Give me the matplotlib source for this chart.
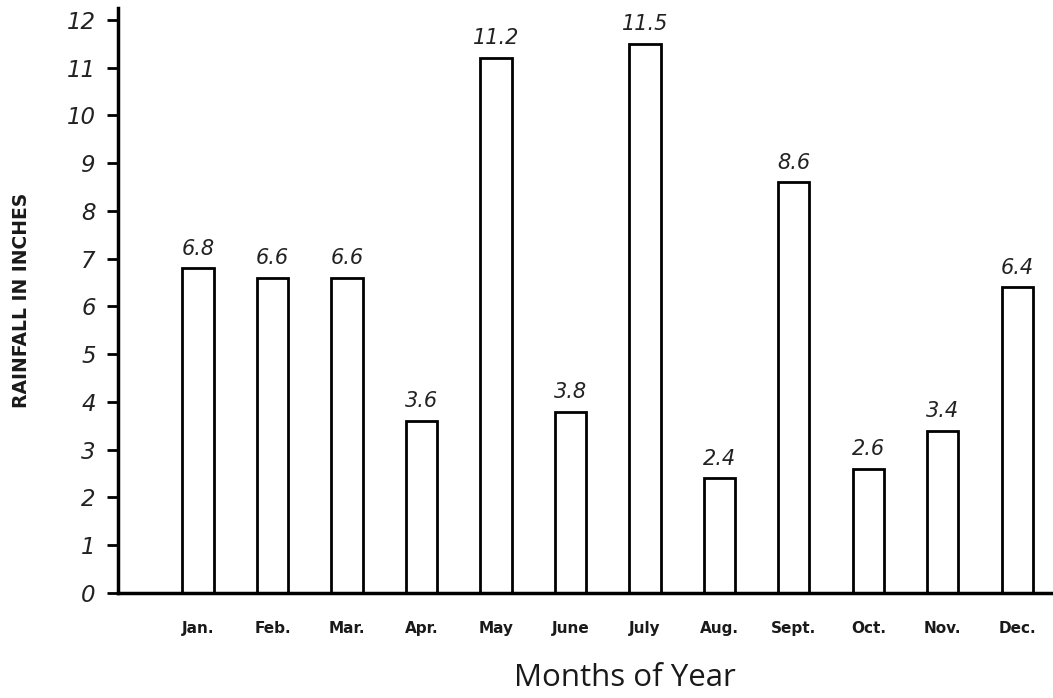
import matplotlib
matplotlib.use("Agg")
import matplotlib.pyplot as plt

months = ["Jan.", "Feb.", "Mar.", "Apr.", "May", "June", "July", "Aug.", "Sept.", "Oct.", "Nov.", "Dec."]
rainfall = [6.8, 6.6, 6.6, 3.6, 11.2, 3.8, 11.5, 2.4, 8.6, 2.6, 3.4, 6.4]
value_labels = ["6.8", "6.6", "6.6", "3.6", "11.2", "3.8", "11.5", "2.4", "8.6", "2.6", "3.4", "6.4"]
y_ticks = list(range(0, 13))

fig = plt.figure(figsize=(10.53, 6.98), dpi=100)
ax = fig.add_axes([118/1053, 105/698, 1 - 118/1053, (593 - 8)/698])

x = list(range(len(months)))
ax.bar(x, rainfall, width=0.42, color="white", edgecolor="black", linewidth=2.0, zorder=3)

for xi, v, lab in zip(x, rainfall, value_labels):
    ax.annotate(lab, (xi, v), xytext=(0, 7), textcoords="offset points",
                ha="center", va="bottom", fontsize=15, style="italic",
                fontweight="light", family="DejaVu Sans", color="#222222")

ax.set_xlim(-1.075, 11.48)
ax.set_ylim(0, 12.25)
ax.set_yticks(y_ticks)
ax.set_yticklabels([str(t) for t in y_ticks], fontsize=16.5, style="italic",
                   family="DejaVu Sans", color="#222222")
ax.set_xticks(x)
ax.set_xticklabels(months, fontsize=11, fontweight="bold", family="DejaVu Sans", color="#1a1a1a")
ax.tick_params(axis="x", length=0, pad=20)
ax.tick_params(axis="y", direction="out", length=8, width=2, pad=8)

for s in ["top", "right"]:
    ax.spines[s].set_visible(False)
for s in ["left", "bottom"]:
    ax.spines[s].set_linewidth(2.5)
    ax.spines[s].set_zorder(4)

fig.text(22/1053, 1 - 300/698, "RAINFALL IN INCHES", rotation=90, ha="center", va="center",
         fontsize=13.5, fontweight="bold", family="DejaVu Sans", color="#1a1a1a")
fig.text(625/1053, 1 - 678/698, "Months of Year", ha="center", va="center",
         fontsize=22.5, family="Open Sans", color="#1a1a1a")

fig.savefig("out.png", dpi=100)
